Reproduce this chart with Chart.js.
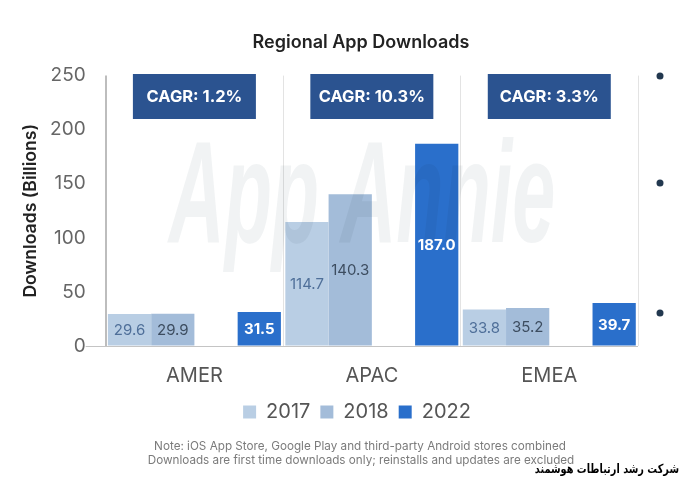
<!DOCTYPE html>
<html><head><meta charset="utf-8">
<style>html,body{margin:0;padding:0;background:#fff}#w{position:relative;width:680px;height:480px}</style>
<script src="https://cdn.jsdelivr.net/npm/chart.js@4"></script></head>
<body><div id="w"><canvas id="c" width="680" height="480"></canvas></div>
<script>
const regions=["AMER","APAC","EMEA"];
const years=["2017","2018","2022"];
const v2017=[29.6,114.7,33.8];
const v2018=[29.9,140.3,35.2];
const gapSlot=[null,null,null];
const v2022=[31.5,187.0,39.7];
const cagr=["CAGR: 1.2%","CAGR: 10.3%","CAGR: 3.3%"];
const yTicks=[0,50,100,150,200,250];
const notes=["Note: iOS App Store, Google Play and third-party Android stores combined","Downloads are first time downloads only; reinstalls and updates are excluded"];
const FONT='Inter';
const overlay={id:'overlay',
 afterLayout(ch){
  const t=ch.titleBlock,l=ch.legend;
  t.left+=34;t.right+=34;
  l.left+=30;l.right+=30;l.top-=14;l.bottom-=14;
 },
 afterDatasetsDraw(ch){
  const c=ch.ctx,x=ch.scales.x;
  c.save();
  c.globalCompositeOperation='multiply';
  c.fillStyle='rgba(120,135,150,0.10)';
  c.textAlign='center';c.textBaseline='alphabetic';
  c.translate(362,242);c.scale(0.69,1.3);
  c.font='italic 700 112px "Liberation Sans"';
  c.fillText('App Annie',0,0);
  c.restore();
  c.save();c.textAlign='center';c.textBaseline='middle';
  const styles=[['#4f6f99','400 15px '+FONT],['#3d4d60','400 15px '+FONT],null,['#fff','700 15px '+FONT]];
  ch.data.datasets.forEach((d,i)=>{
   if(!styles[i])return;
   ch.getDatasetMeta(i).data.forEach((b,j)=>{
    c.fillStyle=styles[i][0];c.font=styles[i][1];
    c.fillText(d.data[j].toFixed(1),b.x,(b.y+b.base)/2+1);
   });
  });
  regions.forEach((r,j)=>{
   const cx=x.getPixelForValue(j);
   c.fillStyle='#2b5390';
   c.fillRect(cx-61.5,74,123,45);
   c.fillStyle='#fff';c.font='700 16.5px '+FONT;
   c.fillText(cagr[j],cx,97);
  });
  c.fillStyle='#22384f';
  [76,183,313].forEach(py=>{c.beginPath();c.arc(660,py,3.5,0,Math.PI*2);c.fill();});
  c.fillStyle='#7b7b7b';c.font='400 11.7px '+FONT;
  c.fillText(notes[0],360,446);c.fillText(notes[1],361,460);
  c.translate(679,470);c.scale(0.78,1);
  c.fillStyle='#000';c.font='700 12.5px "DejaVu Sans"';c.direction='rtl';
  c.textAlign='right';
  c.fillText('شرکت رشد ارتباطات هوشمند',0,0);
  c.restore();
 }};
new Chart(document.getElementById('c'),{
 type:'bar',
 data:{labels:regions,datasets:[
  {label:years[0],data:v2017,backgroundColor:'#b9cee4'},
  {label:years[1],data:v2018,backgroundColor:'#a3bcd9'},
  {label:'',data:gapSlot,backgroundColor:'#fff'},
  {label:years[2],data:v2022,backgroundColor:'#2a6fcb'}]},
 plugins:[overlay],
 options:{responsive:false,animation:false,
  layout:{padding:{left:16,right:42,top:28,bottom:34}},
  datasets:{bar:{barPercentage:1,categoryPercentage:0.975}},
  plugins:{
   tooltip:{enabled:false},
   title:{display:true,text:'Regional App Downloads',color:'#222',font:{family:FONT,size:18,weight:'600'},padding:{top:4,bottom:22}},
   legend:{position:'bottom',labels:{filter:i=>i.text!=='',boxWidth:13,boxHeight:13,padding:10,color:'#555',font:{family:FONT,size:20}}}
  },
  scales:{
   x:{grid:{color:c=>c.index===0?'#bdbdbd':'#e3e3e3',lineWidth:c=>c.index===0?2:1,drawTicks:false},border:{display:false},
      ticks:{color:'#555',padding:18,font:{family:FONT,size:20}}},
   y:{min:0,max:250,afterBuildTicks:s=>{s.ticks=yTicks.map(v=>({value:v}));},
      grid:{color:c=>c.tick.value===0?'#c4c4c4':'transparent',tickLength:20},border:{display:false},
      ticks:{color:'#666',padding:0,font:{family:FONT,size:19}},
      title:{display:true,text:'Downloads (Billions)',color:'#222',font:{family:FONT,size:17.6,weight:'600'},padding:{bottom:9}}}
  }}
});
</script></body></html>
